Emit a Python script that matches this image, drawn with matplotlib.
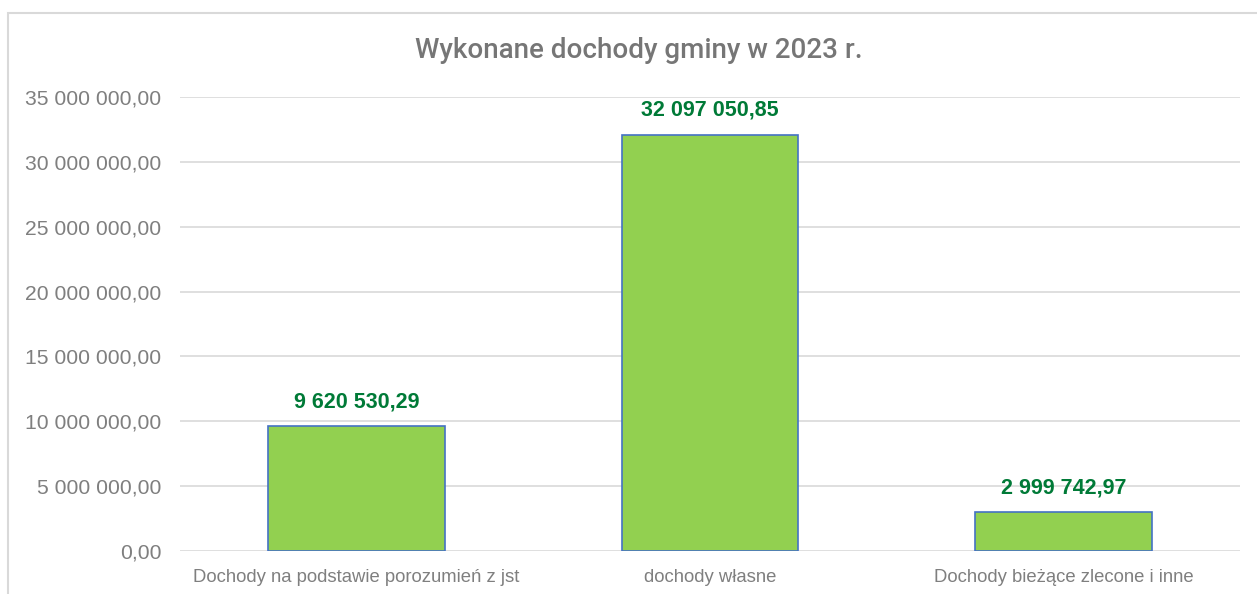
import matplotlib
matplotlib.use('Agg')
from matplotlib import pyplot as plt
from matplotlib.patches import Rectangle
from matplotlib.ticker import FuncFormatter

# Data
categories = ['Dochody na podstawie porozumień z jst', 'dochody własne', 'Dochody bieżące zlecone i inne']
values = [9620530.29, 32097050.85, 2999742.97]
title = 'Wykonane dochody gminy w 2023 r.'
y_ticks = [0, 5000000, 10000000, 15000000, 20000000, 25000000, 30000000, 35000000]

plt.rcParams['font.family'] = ['Liberation Sans', 'DejaVu Sans']


def pl_format(v, pos=None):
    # Polish number format: space as thousands sep, comma decimal
    s = f'{v:,.2f}'
    return s.replace(',', ' ').replace('.', ',')


W, H = 1257, 594
fig = plt.figure(figsize=(W / 100, H / 100), dpi=100)

# chart frame (runs off the right and bottom edges)
fig.patches.append(Rectangle((8 / W, -0.2), 1.2, 1.2 - 13 / H, transform=fig.transFigure,
                             fill=False, edgecolor='#D9D9D9', linewidth=1.5))

ax = fig.add_axes([180 / W, 1 - 551 / H, (1240 - 180) / W, (551 - 97) / H])

x = range(len(categories))
ax.bar(x, values, width=0.5, color='#92D050', edgecolor='#4472C4', linewidth=1.2, zorder=3)

for i, v in zip(x, values):
    ax.annotate(pl_format(v), (i, v), xytext=(0, 10), textcoords='offset points',
                ha='center', va='bottom', fontsize=15.5, fontweight='bold', color='#007A37')

ax.set_xlim(-0.5, 2.5)
ax.set_ylim(0, 35000000)
ax.set_yticks(y_ticks)
ax.yaxis.set_major_formatter(FuncFormatter(pl_format))
ax.set_xticks(list(x))
ax.set_xticklabels(categories)

ax.grid(axis='y', color='#D9D9D9', linewidth=1.2, zorder=0)
for s in ax.spines.values():
    s.set_visible(False)
ax.tick_params(axis='both', length=0, colors='#7F7F7F', labelsize=15.2)
ax.tick_params(axis='y', pad=13.5)
ax.tick_params(axis='x', pad=13)
for lbl in ax.get_xticklabels():
    lbl.set_fontsize(13.3)

fig.text(639 / W, 1 - 51 / H, title, ha='center', va='center', fontsize=20,
         color='#767676', family=['Roboto', 'DejaVu Sans'], fontweight='medium')

fig.savefig('out.png', dpi=100)
